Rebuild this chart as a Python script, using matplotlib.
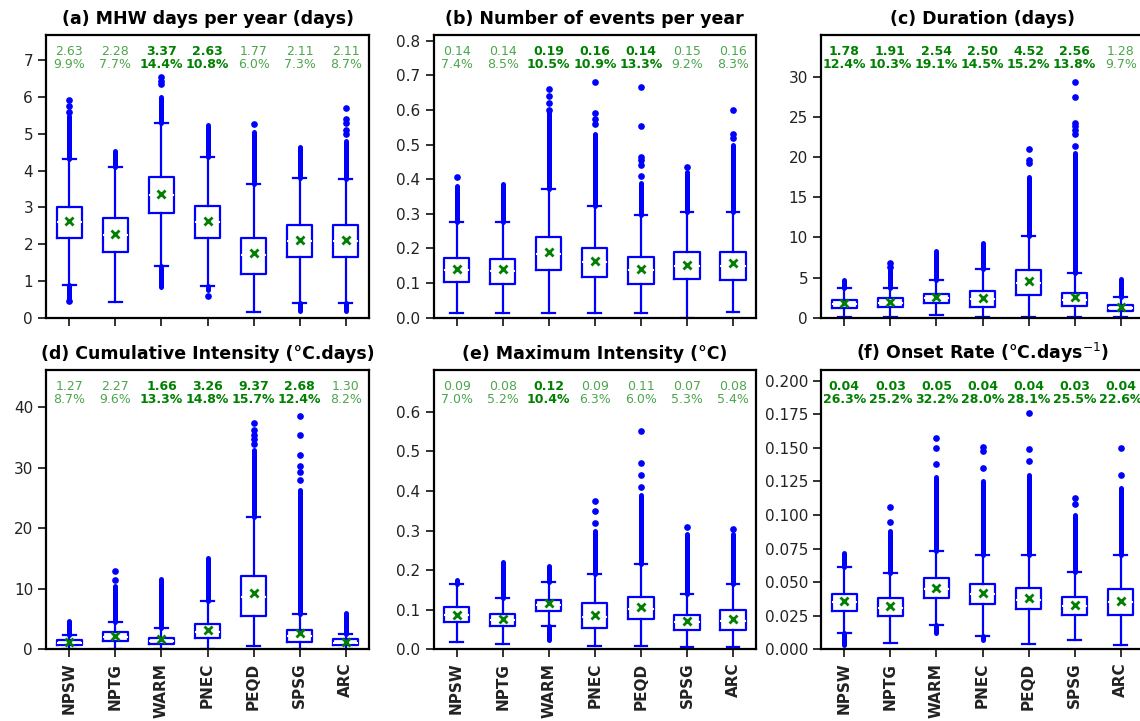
import numpy as np
import matplotlib.pyplot as plt
from matplotlib.transforms import blended_transform_factory

regions = ['NPSW', 'NPTG', 'WARM', 'PNEC', 'PEQD', 'SPSG', 'ARC']
titles = ['(a) MHW days per year (days)', '(b) Number of events per year',
          '(c) Duration (days)', '(d) Cumulative Intensity (°C.days)',
          '(e) Maximum Intensity (°C)', '(f) Onset Rate (°C.days$^{-1}$)']

# mean values (printed above each box) and their percentage
means = [[2.63, 2.28, 3.37, 2.63, 1.77, 2.11, 2.11],
         [0.142, 0.14, 0.19, 0.164, 0.142, 0.153, 0.157],
         [1.78, 1.91, 2.54, 2.50, 4.52, 2.56, 1.28],
         [1.27, 2.27, 1.66, 3.26, 9.37, 2.68, 1.30],
         [0.088, 0.078, 0.117, 0.088, 0.108, 0.073, 0.077],
         [0.036, 0.032, 0.046, 0.042, 0.038, 0.033, 0.036]]
pcts = [[9.9, 7.7, 14.4, 10.8, 6.0, 7.3, 8.7],
        [7.4, 8.5, 10.5, 10.9, 13.3, 9.2, 8.3],
        [12.4, 10.3, 19.1, 14.5, 15.2, 13.8, 9.7],
        [8.7, 9.6, 13.3, 14.8, 15.7, 12.4, 8.2],
        [7.0, 5.2, 10.4, 6.3, 6.0, 5.3, 5.4],
        [26.3, 25.2, 32.2, 28.0, 28.1, 25.5, 22.6]]
signif = [[0, 0, 1, 1, 0, 0, 0],
          [0, 0, 1, 1, 1, 0, 0],
          [1, 1, 1, 1, 1, 1, 0],
          [0, 0, 1, 1, 1, 1, 0],
          [0, 0, 1, 0, 0, 0, 0],
          [1, 1, 1, 1, 1, 1, 1]]

# box statistics
q1 = [[2.16, 1.78, 2.86, 2.18, 1.18, 1.64, 1.64],
      [0.102, 0.097, 0.139, 0.118, 0.097, 0.111, 0.109],
      [1.24, 1.36, 1.86, 1.36, 2.77, 1.49, 0.87],
      [0.66, 1.43, 0.88, 1.82, 5.56, 1.27, 0.66],
      [0.07, 0.058, 0.096, 0.055, 0.076, 0.05, 0.05],
      [0.029, 0.025, 0.038, 0.034, 0.030, 0.026, 0.026]]
med = [[2.6, 2.25, 3.35, 2.6, 1.72, 2.08, 2.08],
       [0.138, 0.135, 0.185, 0.16, 0.138, 0.15, 0.148],
       [1.7, 1.85, 2.4, 2.3, 4.3, 2.2, 1.2],
       [1.1, 2.1, 1.4, 2.9, 8.7, 2.2, 1.1],
       [0.086, 0.075, 0.112, 0.082, 0.102, 0.07, 0.073],
       [0.035, 0.031, 0.045, 0.041, 0.037, 0.032, 0.035]]
q3 = [[3.02, 2.72, 3.84, 3.05, 2.16, 2.52, 2.52],
      [0.172, 0.171, 0.234, 0.20, 0.176, 0.189, 0.189],
      [2.19, 2.4, 3.0, 3.35, 5.9, 3.1, 1.57],
      [1.54, 2.81, 1.93, 4.19, 12.18, 3.2, 1.65],
      [0.106, 0.09, 0.126, 0.118, 0.133, 0.088, 0.1],
      [0.041, 0.038, 0.053, 0.049, 0.046, 0.039, 0.045]]
whislo = [[0.89, 0.42, 1.41, 0.87, 0.16, 0.39, 0.39],
          [0.015, 0.015, 0.015, 0.015, 0.015, 0.0, 0.018],
          [0.1, 0.1, 0.33, 0.1, 0.15, 0.1, 0.05],
          [0.0, 0.05, 0.0, 0.05, 0.55, 0.0, 0.0],
          [0.02, 0.015, 0.06, 0.008, 0.008, 0.005, 0.005],
          [0.012, 0.005, 0.018, 0.01, 0.004, 0.007, 0.003]]
whishi = [[4.31, 4.11, 5.30, 4.37, 3.64, 3.80, 3.78],
          [0.275, 0.275, 0.373, 0.323, 0.296, 0.306, 0.306],
          [3.64, 3.76, 4.67, 6.1, 10.2, 5.58, 2.6],
          [2.37, 4.57, 3.47, 7.99, 21.93, 5.79, 2.64],
          [0.164, 0.13, 0.17, 0.19, 0.215, 0.14, 0.165],
          [0.061, 0.057, 0.073, 0.07, 0.07, 0.058, 0.07]]

# outliers: solid runs above/below the whiskers, plus isolated points
dense_hi = [[5.5, 4.55, 6.0, 5.25, 5.05, 4.65, 4.8],
            [0.38, 0.385, 0.59, 0.53, 0.39, 0.42, 0.50],
            [4.7, 6.0, 8.3, 9.3, 17.5, 20.5, 4.8],
            [4.7, 10.5, 11.6, 15.2, 33.0, 26.3, 6.1],
            [0.174, 0.22, 0.21, 0.30, 0.39, 0.29, 0.29],
            [0.072, 0.088, 0.128, 0.125, 0.13, 0.1, 0.12]]
dense_lo = [[0.55, None, 0.84, 0.75, None, 0.18, 0.18],
            [None, None, None, None, None, None, None],
            [None, None, None, None, None, None, None],
            [None, None, None, None, None, None, None],
            [None, None, 0.025, None, None, None, None],
            [0.003, None, 0.012, 0.007, None, None, None]]
sparse = [[[5.6, 5.75, 5.93, 0.45], [], [6.35, 6.45, 6.55], [0.58], [5.28], [], [5.0, 5.1, 5.3, 5.4, 5.72]],
          [[0.405], [], [0.60, 0.62, 0.64, 0.66], [0.56, 0.575, 0.59, 0.68], [0.41, 0.44, 0.455, 0.465, 0.555, 0.665], [0.435], [0.52, 0.53, 0.60]],
          [[], [6.3, 6.8], [], [], [19.2, 19.6, 21.0], [21.4, 22.8, 23.3, 23.8, 24.2, 27.5, 29.3], []],
          [[], [11.5, 12.9], [], [], [34.0, 34.8, 35.4, 36.2, 37.5], [28.0, 29.3, 30.3, 32.1, 35.4, 38.6], []],
          [[], [], [], [0.32, 0.35, 0.375], [0.41, 0.44, 0.47, 0.55], [0.31], [0.305]],
          [[], [0.095, 0.106], [0.138, 0.15, 0.157], [0.135, 0.148, 0.151], [0.14, 0.149, 0.176], [0.108, 0.113], [0.13, 0.15]]]

ylims = [7.7, 0.817, 35.2, 46.2, 0.705, 0.208]
yticks = [np.arange(0, 8, 1), np.arange(0, 0.81, 0.1), np.arange(0, 31, 5),
          np.arange(0, 41, 10), np.arange(0, 0.61, 0.1), np.arange(0, 0.201, 0.025)]
ytick_fmt = ['{:.0f}', '{:.1f}', '{:.0f}', '{:.0f}', '{:.1f}', '{:.3f}']

fig = plt.figure(figsize=(11.4, 7.21), dpi=100)
lefts = [0.0406, 0.3803, 0.7204]
bottoms = [0.5593, 0.0992]
heights = [0.3925, 0.3877]
w = 0.2829

pos = np.arange(1, 8)
for k in range(6):
    r, c = divmod(k, 3)
    ax = fig.add_axes([lefts[c], bottoms[r], w, heights[r]])
    stats = []
    for i in range(7):
        stats.append(dict(med=med[k][i], q1=q1[k][i], q3=q3[k][i],
                          whislo=whislo[k][i], whishi=whishi[k][i],
                          mean=means[k][i], fliers=sparse[k][i]))
    # dense outlier runs
    for i in range(7):
        lc = ax.vlines(pos[i], whishi[k][i], dense_hi[k][i], color='blue', lw=3.6, zorder=1)
        lc.set_capstyle('round')
        if dense_lo[k][i] is not None:
            lc = ax.vlines(pos[i], dense_lo[k][i], whislo[k][i], color='blue', lw=3.6, zorder=1)
            lc.set_capstyle('round')
    ax.bxp(stats, positions=pos, widths=0.55, showmeans=True,
           boxprops=dict(color='blue', lw=1.6),
           whiskerprops=dict(color='blue', lw=1.6),
           capprops=dict(color='blue', lw=1.6),
           medianprops=dict(color='white', lw=1.5, ls='--'),
           meanprops=dict(marker='x', mec='green', mew=2, ms=6),
           flierprops=dict(marker='o', mfc='blue', mec='blue', ms=3.8, ls='none'))

    tr = blended_transform_factory(ax.transData, ax.transAxes)
    for i in range(7):
        b = signif[k][i]
        ax.text(pos[i], 0.965, f'{means[k][i]:.2f}\n{pcts[k][i]:.1f}%', transform=tr,
                ha='center', va='top', fontsize=9, color='green',
                fontweight='bold' if b else 'normal', alpha=1 if b else 0.7,
                linespacing=1.05)

    ax.set_xlim(0.5, 7.5)
    ax.set_ylim(0, ylims[k])
    ax.set_yticks(yticks[k])
    ax.set_yticklabels([ytick_fmt[k].format(v) for v in yticks[k]])
    ax.set_xticks(pos)
    if r == 1:
        ax.set_xticklabels(regions, rotation=90, fontweight='bold', fontsize=11)
    else:
        ax.set_xticklabels([])
    ax.tick_params(axis='both', length=6, width=1.3, labelsize=11, colors='#222222')
    for s in ax.spines.values():
        s.set_linewidth(1.6)
    ax.set_title(titles[k], fontsize=12.5, fontweight='bold', pad=8)

fig.savefig('out.png', dpi=100)
